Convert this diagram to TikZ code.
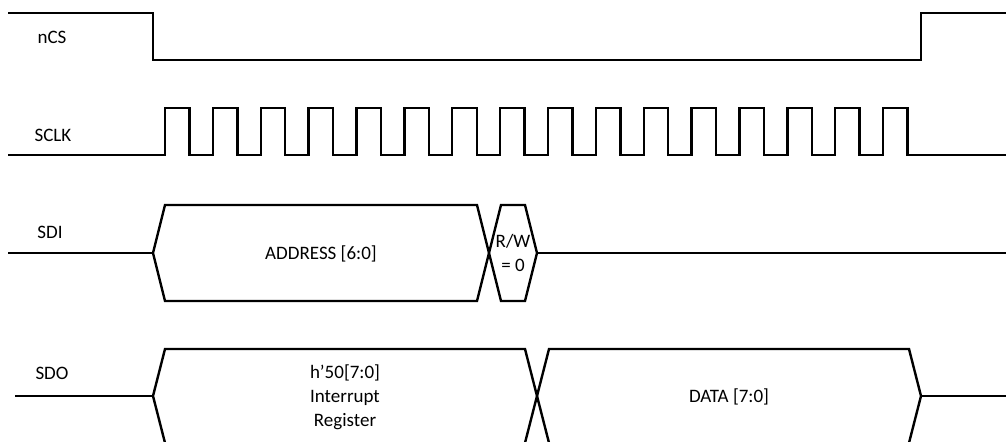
\documentclass[tikz,border=0pt]{standalone}
\usepackage{fontspec}
\setmainfont{Carlito}
\usetikzlibrary{positioning}

\begin{document}
\begin{tikzpicture}[x=0.5pt, y=-0.5pt,
      wave/.style={line width=1.2pt, line join=miter},
      sig/.style={font=\fontsize{9.5}{12}\selectfont, inner sep=0pt},
      bus/.style={font=\fontsize{9.5}{12}\selectfont, align=center, inner sep=0pt}]
    \useasboundingbox (0,0) rectangle (1006,442);
    \clip (0,0) rectangle (1006,442);
    % signal names
    \node[sig] (ncs)  at (52,37)  {nCS};
    \node[sig] (sclk) at (53,135) {SCLK};
    \node[sig] (sdi)  at (50,232) {SDI};
    \node[sig] (sdo)  at (52,373) {SDO};
    % nCS
    \draw[wave] (8,13) -- (153,13) -- (153,60) -- (921,60) -- (921,13) -- (1006,13);
    % SCLK, 16 pulses
    \draw[wave] (8,155) \foreach \i in {0,...,15} {
        -- ({165+47.87*\i},155) -- ++(0,-47) -- ++(24.5,0) -- ++(0,47)} -- (1006,155);
    % SDI
    \draw[wave] (8,253) -- (153,253);
    \draw[wave] (153,253) -- (165,205) -- (477,205) -- (489,253) -- (477,301) -- (165,301) -- cycle;
    \draw[wave] (489,253) -- (501,205) -- (525,205) -- (537,253) -- (525,301) -- (501,301) -- cycle;
    \draw[wave] (537,253) -- (1006,253);
    \node[bus] (addr) at (321,254) {ADDRESS [6:0]};
    \node[bus] (rw)   at (513,253) {R/W\\= 0};
    % SDO
    \draw[wave] (15,396) -- (153,396);
    \draw[wave] (165.8,446) -- (153,396) -- (165,349) -- (525,349) -- (537,396) -- (524.2,446);
    \draw[wave] (549.8,446) -- (537,396) -- (549,349) -- (909,349) -- (921,396) -- (908.2,446);
    \draw[wave] (921,396) -- (1006,396);
    \node[bus] (reg)  at (345,397) {h’50[7:0]\\Interrupt\\Register};
    \node[bus] (data) at (729,397) {DATA [7:0]};
  \end{tikzpicture}
\end{document}
